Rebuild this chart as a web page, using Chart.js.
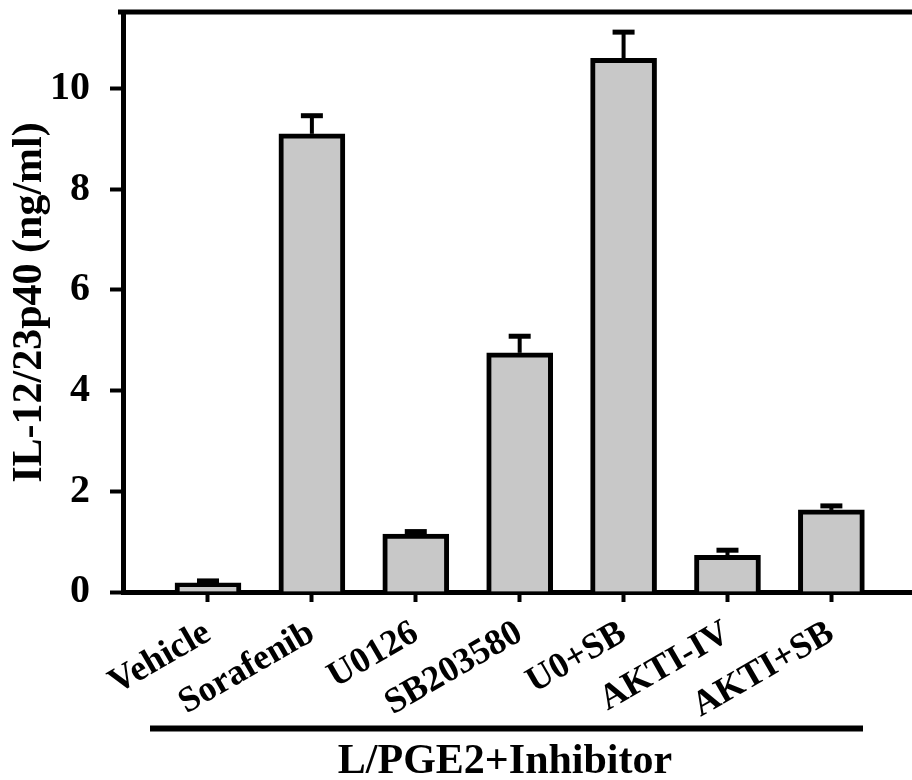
<!DOCTYPE html>
<html>
<head>
<meta charset="utf-8">
<script src="https://cdn.jsdelivr.net/npm/chart.js@4"></script>
<style>
  html, body { margin: 0; padding: 0; background: #fff; overflow: hidden; }
  #wrap { width: 912px; height: 780px; }
</style>
</head>
<body>
<div id="wrap"><canvas id="ChartIL12"></canvas></div>
<script>
const categories = ['Vehicle', 'Sorafenib', 'U0126', 'SB203580', 'U0+SB', 'AKTI-IV', 'AKTI+SB'];
const values = [0.18, 9.1, 1.15, 4.75, 10.6, 0.73, 1.63];
const errors = [0.04, 0.36, 0.05, 0.33, 0.52, 0.1, 0.08];
const yTicks = [0, 2, 4, 6, 8, 10];
const groupLabel = 'L/PGE2+Inhibitor';

const serif = "'Liberation Serif', 'Times New Roman', serif";

// error bars (upper only) + top frame line + group bracket
const extras = {
    id: 'extras',
    afterDatasetsDraw(chart) {
        const c = chart.ctx, xs = chart.scales.x, ys = chart.scales.y;
        c.save();
        c.strokeStyle = '#000';
        values.forEach((v, i) => {
            const x = xs.getPixelForValue(i);
            const y0 = ys.getPixelForValue(v);
            const y1 = ys.getPixelForValue(v + errors[i]);
            c.lineWidth = 4;
            c.beginPath(); c.moveTo(x, y0); c.lineTo(x, y1); c.stroke();
            c.lineWidth = 5;
            c.beginPath(); c.moveTo(x - 11, y1); c.lineTo(x + 11, y1); c.stroke();
        });
        c.restore();
    },
    afterDraw(chart) {
        const c = chart.ctx, a = chart.chartArea;
        c.save();
        c.strokeStyle = '#000';
        c.lineWidth = 5;
        c.beginPath(); c.moveTo(a.left - 5, a.top - 1); c.lineTo(chart.width, a.top - 1); c.stroke();
        c.lineWidth = 6;
        c.beginPath(); c.moveTo(150, 728.5); c.lineTo(863, 728.5); c.stroke();
        c.fillStyle = '#000';
        c.font = 'bold 42px ' + serif;
        c.textAlign = 'center';
        c.textBaseline = 'alphabetic';
        c.fillText(groupLabel, 505, 773);
        c.restore();
    }
};

const ctx = document.getElementById('ChartIL12').getContext('2d');
new Chart(ctx, {
    type: 'bar',
    data: {
        datasets: [{
            data: values.map((v, i) => ({ x: i, y: v })),
            backgroundColor: '#c8c8c8',
            borderColor: '#000',
            borderWidth: 5,
            barThickness: 66
        }]
    },
    options: {
        responsive: true,
        maintainAspectRatio: false,
        animation: false,
        layout: { autoPadding: false, padding: { top: 13, right: 0, bottom: 0, left: 0 } },
        plugins: { legend: { display: false }, tooltip: { enabled: false } },
        scales: {
            x: {
                type: 'linear',
                min: -0.818,
                max: 6.776,
                offset: false,
                afterBuildTicks: s => { s.ticks = categories.map((c, i) => ({ value: i })); },
                afterFit: s => { s.height = 188; s.paddingLeft = 0; s.paddingRight = 0; },
                border: { display: true, color: '#000', width: 5 },
                grid: { offset: false, drawOnChartArea: false, drawTicks: true, tickLength: 10, tickWidth: 4, tickColor: '#000' },
                ticks: {
                    color: '#000',
                    font: { family: serif, weight: 'bold', size: 36 },
                    minRotation: 30,
                    maxRotation: 30,
                    padding: 10,
                    autoSkip: false,
                    callback: v => categories[v]
                }
            },
            y: {
                min: 0,
                max: 11.5,
                afterBuildTicks: s => { s.ticks = yTicks.map(v => ({ value: v })); },
                afterFit: s => { s.width = 123; s.paddingTop = 0; s.paddingBottom = 0; },
                border: { display: true, color: '#000', width: 5 },
                grid: { drawOnChartArea: false, drawTicks: true, tickLength: 13, tickWidth: 4, tickColor: '#000' },
                ticks: {
                    color: '#000',
                    font: { family: serif, weight: 'bold', size: 40 },
                    padding: 20
                },
                title: {
                    display: true,
                    text: 'IL-12/23p40 (ng/ml)',
                    color: '#000',
                    font: { family: serif, weight: 'bold', size: 42, lineHeight: 1 },
                    padding: { top: 9, bottom: 0 }
                }
            }
        }
    },
    plugins: [extras]
});
</script>
</body>
</html>
